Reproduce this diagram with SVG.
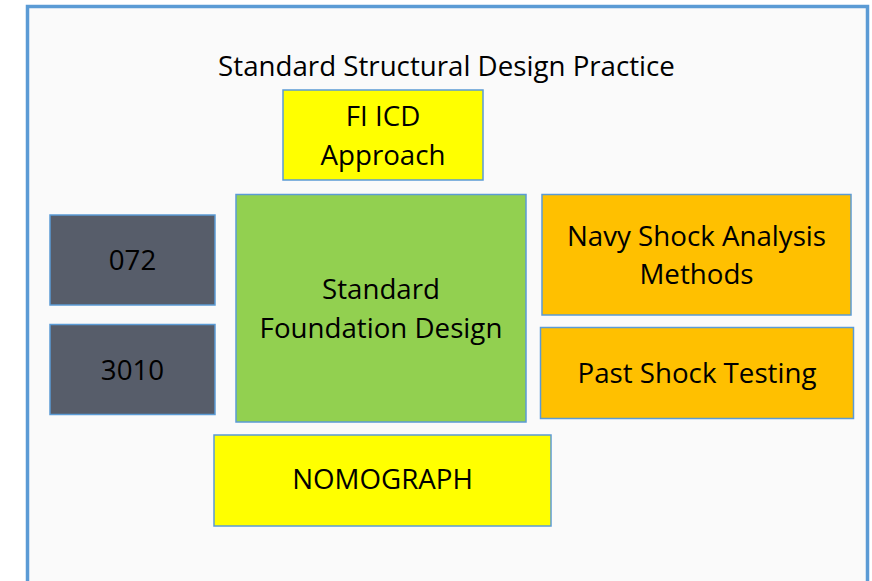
<svg xmlns="http://www.w3.org/2000/svg" width="872" height="581" viewBox="0 0 872 581">
<style>
  .box { stroke: #5b9bd5; stroke-width: 1.5; }
  .t { font-family: "Open Sans", Lato, "Liberation Sans", sans-serif; font-size: 27.7px; fill: #000; text-anchor: middle; }
</style>
<rect x="0" y="0" width="872" height="581" fill="#ffffff"/>
<rect id="frame" x="27.5" y="6.5" width="840" height="590" fill="#fafafa" stroke="#5b9bd5" stroke-width="3.5"/>
<text class="t" x="446.5" y="75.5">Standard Structural Design Practice</text>
<g id="fi-icd">
  <rect class="box" x="283" y="90" width="200" height="90" fill="#ffff00"/>
  <text class="t" x="383" y="126">FI ICD</text>
  <text class="t" x="383" y="165">Approach</text>
</g>
<g id="n072">
  <rect class="box" x="50" y="215" width="165" height="90" fill="#575d6a"/>
  <text class="t" x="132.5" y="270">072</text>
</g>
<g id="n3010">
  <rect class="box" x="50" y="324.5" width="165" height="90" fill="#575d6a"/>
  <text class="t" x="132.5" y="380">3010</text>
</g>
<g id="foundation">
  <rect class="box" x="236" y="194.5" width="290" height="227.5" fill="#92d050"/>
  <text class="t" x="381" y="299">Standard</text>
  <text class="t" x="381" y="338">Foundation Design</text>
</g>
<g id="navy">
  <rect class="box" x="542" y="194.5" width="309" height="120.5" fill="#ffc000"/>
  <text class="t" x="696.5" y="246">Navy Shock Analysis</text>
  <text class="t" x="696.5" y="284">Methods</text>
</g>
<g id="past">
  <rect class="box" x="540.5" y="327.5" width="313" height="91" fill="#ffc000"/>
  <text class="t" x="697" y="383">Past Shock Testing</text>
</g>
<g id="nomograph">
  <rect class="box" x="214" y="435" width="337" height="91" fill="#ffff00"/>
  <text class="t" x="382.5" y="489">NOMOGRAPH</text>
</g>
<g id="connectors"></g>
</svg>
